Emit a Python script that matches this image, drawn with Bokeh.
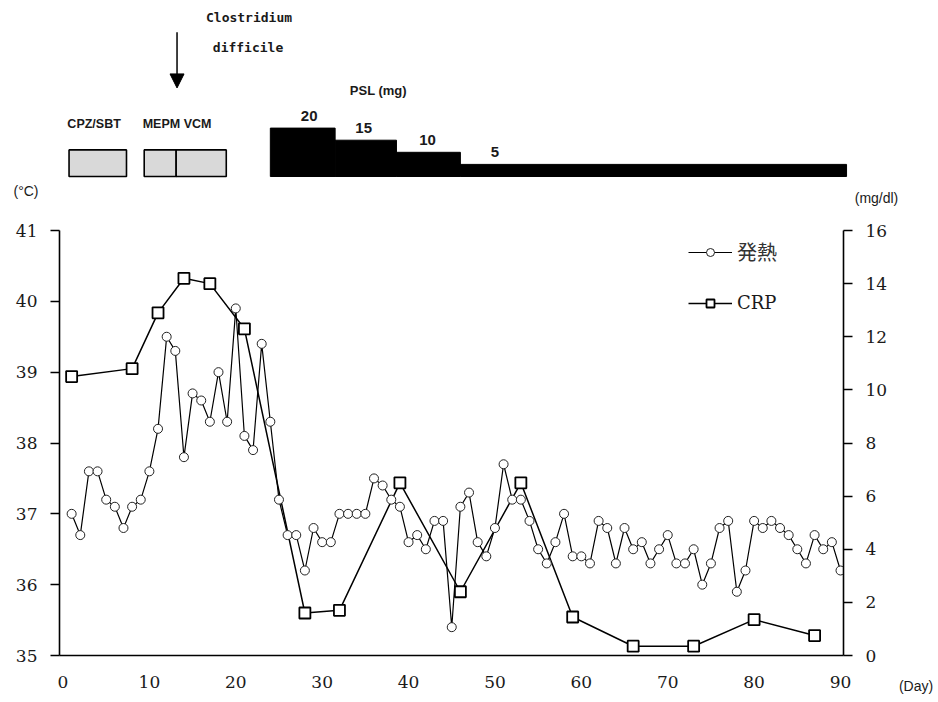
from bokeh.plotting import figure
from bokeh.models import (Range1d, LinearAxis, FixedTicker, Legend, LegendItem,
                          Arrow, NormalHead)
from bokeh.layouts import column, row
from bokeh.core.properties import value
from bokeh.embed import file_html
from bokeh.resources import INLINE

# ---------------- data ----------------
days = list(range(1, 91))
fever = [37.0, 36.7, 37.6, 37.6, 37.2, 37.1, 36.8, 37.1, 37.2, 37.6,
         38.2, 39.5, 39.3, 37.8, 38.7, 38.6, 38.3, 39.0, 38.3, 39.9,
         38.1, 37.9, 39.4, 38.3, 37.2, 36.7, 36.7, 36.2, 36.8, 36.6,
         36.6, 37.0, 37.0, 37.0, 37.0, 37.5, 37.4, 37.2, 37.1, 36.6,
         36.7, 36.5, 36.9, 36.9, 35.4, 37.1, 37.3, 36.6, 36.4, 36.8,
         37.7, 37.2, 37.2, 36.9, 36.5, 36.3, 36.6, 37.0, 36.4, 36.4,
         36.3, 36.9, 36.8, 36.3, 36.8, 36.5, 36.6, 36.3, 36.5, 36.7,
         36.3, 36.3, 36.5, 36.0, 36.3, 36.8, 36.9, 35.9, 36.2, 36.9,
         36.8, 36.9, 36.8, 36.7, 36.5, 36.3, 36.7, 36.5, 36.6, 36.2]

crp_days = [1, 8, 11, 14, 17, 21, 28, 32, 39, 46, 53, 59, 66, 73, 80, 87]
crp = [10.5, 10.8, 12.9, 14.2, 14.0, 12.3, 1.6, 1.7, 6.5, 2.4, 6.5, 1.45,
       0.35, 0.35, 1.35, 0.75]

abx_start = [0.7, 9.4, 13.1]      # CPZ/SBT, MEPM, VCM
abx_end = [7.35, 13.1, 18.9]
abx_labels = ["CPZ/SBT", "MEPM VCM"]
abx_label_day = [3.6, 13.2]

psl_dose = [20, 15, 10, 5]
psl_start = [24, 31.5, 38.6, 46]
psl_end = [31.5, 38.6, 46, 90.7]
psl_label_day = [28.5, 34.8, 42.2, 50.0]

cd_day = 13.2   # Clostridium difficile

temp_ticks = [35, 36, 37, 38, 39, 40, 41]
crp_ticks = [0, 2, 4, 6, 8, 10, 12, 14, 16]
day_ticks = [0, 10, 20, 30, 40, 50, 60, 70, 80, 90]

# ---------------- layout ----------------
PAGE_W = 938
FL, FW, FH, FR = 59, 784, 425, 50
TOP_H = 213
BT, BB = 17, 45
X0, X1 = -0.405, 90.347
T0, T1 = 35, 41
ppd = FW / (X1 - X0)
ppt = FH / (T1 - T0)
tx0 = X0 - FL / ppd
tx1 = tx0 + PAGE_W / ppd
PPM = 2.42          # px per mg in top panel
ZERO = 176          # px from top of top panel to baseline
ty1 = ZERO / PPM
ty0 = -(TOP_H - ZERO) / PPM

SANS = value("Liberation Sans")
TXT = "#1a1a1a"

def bare(fig):
    fig.xgrid.visible = False
    fig.ygrid.visible = False
    return fig

# ---------------- top panel ----------------
p1 = bare(figure(width=PAGE_W, height=TOP_H, x_range=Range1d(tx0, tx1),
                 y_range=Range1d(ty0, ty1), min_border=0,
                 toolbar_location=None, output_backend="svg",
                 x_axis_location=None, y_axis_location=None,
                 outline_line_color=None))

p1.quad(left=abx_start, right=abx_end, bottom=0, top=11,
        fill_color="#d9d9d9", line_color="black", line_width=1.6)
p1.text(x=abx_label_day, y=[21.8] * 2, text=abx_labels,
        text_font=SANS, text_font_style="bold", text_font_size="12.5px",
        text_align="center", text_baseline="middle", text_color=TXT)

p1.quad(left=psl_start, right=psl_end, bottom=0, top=psl_dose,
        fill_color="black", line_color="black", line_width=1)
p1.text(x=psl_label_day, y=psl_dose, text=[str(d) for d in psl_dose],
        y_offset=-12, text_font=SANS, text_font_style="bold",
        text_font_size="15px", text_align="center", text_baseline="middle",
        text_color=TXT)
p1.text(x=[36.5], y=[35.7], text=["PSL (mg)"], text_font=SANS,
        text_font_style="bold", text_font_size="13px", text_align="center",
        text_baseline="middle", text_color=TXT)

p1.add_layout(Arrow(x_start=cd_day, y_start=59.6, x_end=cd_day, y_end=36.6,
                    line_width=1.5, line_color="black",
                    end=NormalHead(size=14, fill_color="black",
                                   line_color="black")))
p1.text(x=[cd_day, cd_day], y=[65.5, 53.4], x_offset=[72, 71],
        text=["Clostridium", "difficile"],
        text_font=value("DejaVu Sans Mono"), text_font_style="bold",
        text_font_size="13px", text_align="center", text_baseline="middle",
        text_color=TXT)

# axis unit captions (placed just outside the chart frame)
p1.text(x=[X0, X1], y=[0, 0], x_offset=[-33.5, 33], y_offset=[14, 21],
        text=["(\u00b0C)", "(mg/dl)"], text_font=SANS,
        text_font_size="14px", text_align="center", text_baseline="middle",
        text_color=TXT)

# ---------------- main chart ----------------
p2 = bare(figure(frame_width=FW, frame_height=FH, x_range=Range1d(X0, X1),
                 y_range=Range1d(T0, T1), min_border_left=FL,
                 min_border_right=FR, min_border_top=BT, min_border_bottom=BB,
                 toolbar_location=None, output_backend="svg",
                 outline_line_color=None))
p2.extra_y_ranges = {"crp": Range1d(0, 16)}

def style(ax, tick_out, standoff):
    ax.axis_line_color = "black"
    ax.axis_line_width = 1.6
    ax.major_tick_line_color = "black"
    ax.major_tick_line_width = 1.6
    ax.major_tick_out = tick_out
    ax.major_tick_in = 0
    ax.minor_tick_out = 0
    ax.minor_tick_in = 0
    ax.major_label_standoff = standoff
    ax.major_label_text_font = "DejaVu Serif"
    ax.major_label_text_font_size = "17px"
    ax.major_label_text_color = TXT

p2.yaxis.ticker = FixedTicker(ticks=temp_ticks)
p2.xaxis.ticker = FixedTicker(ticks=day_ticks)
style(p2.yaxis[0], 9, 13)
style(p2.xaxis[0], 0, 20)

rax = LinearAxis(y_range_name="crp", ticker=FixedTicker(ticks=crp_ticks))
style(rax, 9, 13)
p2.add_layout(rax, "right")

crp_line = p2.line(crp_days, crp, y_range_name="crp", line_color="black",
                   line_width=1.5)
crp_pts = p2.scatter(crp_days, crp, y_range_name="crp", marker="square",
                     size=11, fill_color="white", line_color="black",
                     line_width=1.8)
fev_line = p2.line(days, fever, line_color="black", line_width=1.2)
fev_pts = p2.scatter(days, fever, marker="circle", size=9,
                     fill_color="white", line_color="#222", line_width=1)

leg_common = dict(glyph_width=44, glyph_height=20, label_standoff=5,
                  padding=0, margin=0, border_line_color=None,
                  background_fill_alpha=0, label_height=20,
                  label_text_baseline="middle")
leg1 = Legend(items=[LegendItem(label="発熱", renderers=[fev_line, fev_pts])],
              location=(629, 389), label_text_font="Noto Sans CJK JP",
              label_text_font_size="20px", label_text_color="#333",
              **leg_common)
leg2 = Legend(items=[LegendItem(label="CRP", renderers=[crp_line, crp_pts])],
              location=(629, 342), label_text_font="DejaVu Serif",
              label_text_font_size="18px", label_text_color=TXT,
              **leg_common)
p2.add_layout(leg1)
p2.add_layout(leg2)

# ---------------- x-axis unit caption panel ----------------
P3_W = PAGE_W - (FL + FW + FR)
P3_H = BT + FH + BB
p3 = bare(figure(width=P3_W, height=P3_H, x_range=Range1d(0, 1),
                 y_range=Range1d(T0 - BB / ppt, T1 + BT / ppt), min_border=0,
                 toolbar_location=None, output_backend="svg",
                 x_axis_location=None, y_axis_location=None,
                 outline_line_color=None))
p3.text(x=[0.5], y=[T0], y_offset=[30], text=["(Day)"], text_font=SANS,
        text_font_size="14px", text_align="center", text_baseline="middle",
        text_color=TXT)

layout = column(row(p1), row(p2, column(p3)))
open("out.html", "w").write(file_html(layout, INLINE))
